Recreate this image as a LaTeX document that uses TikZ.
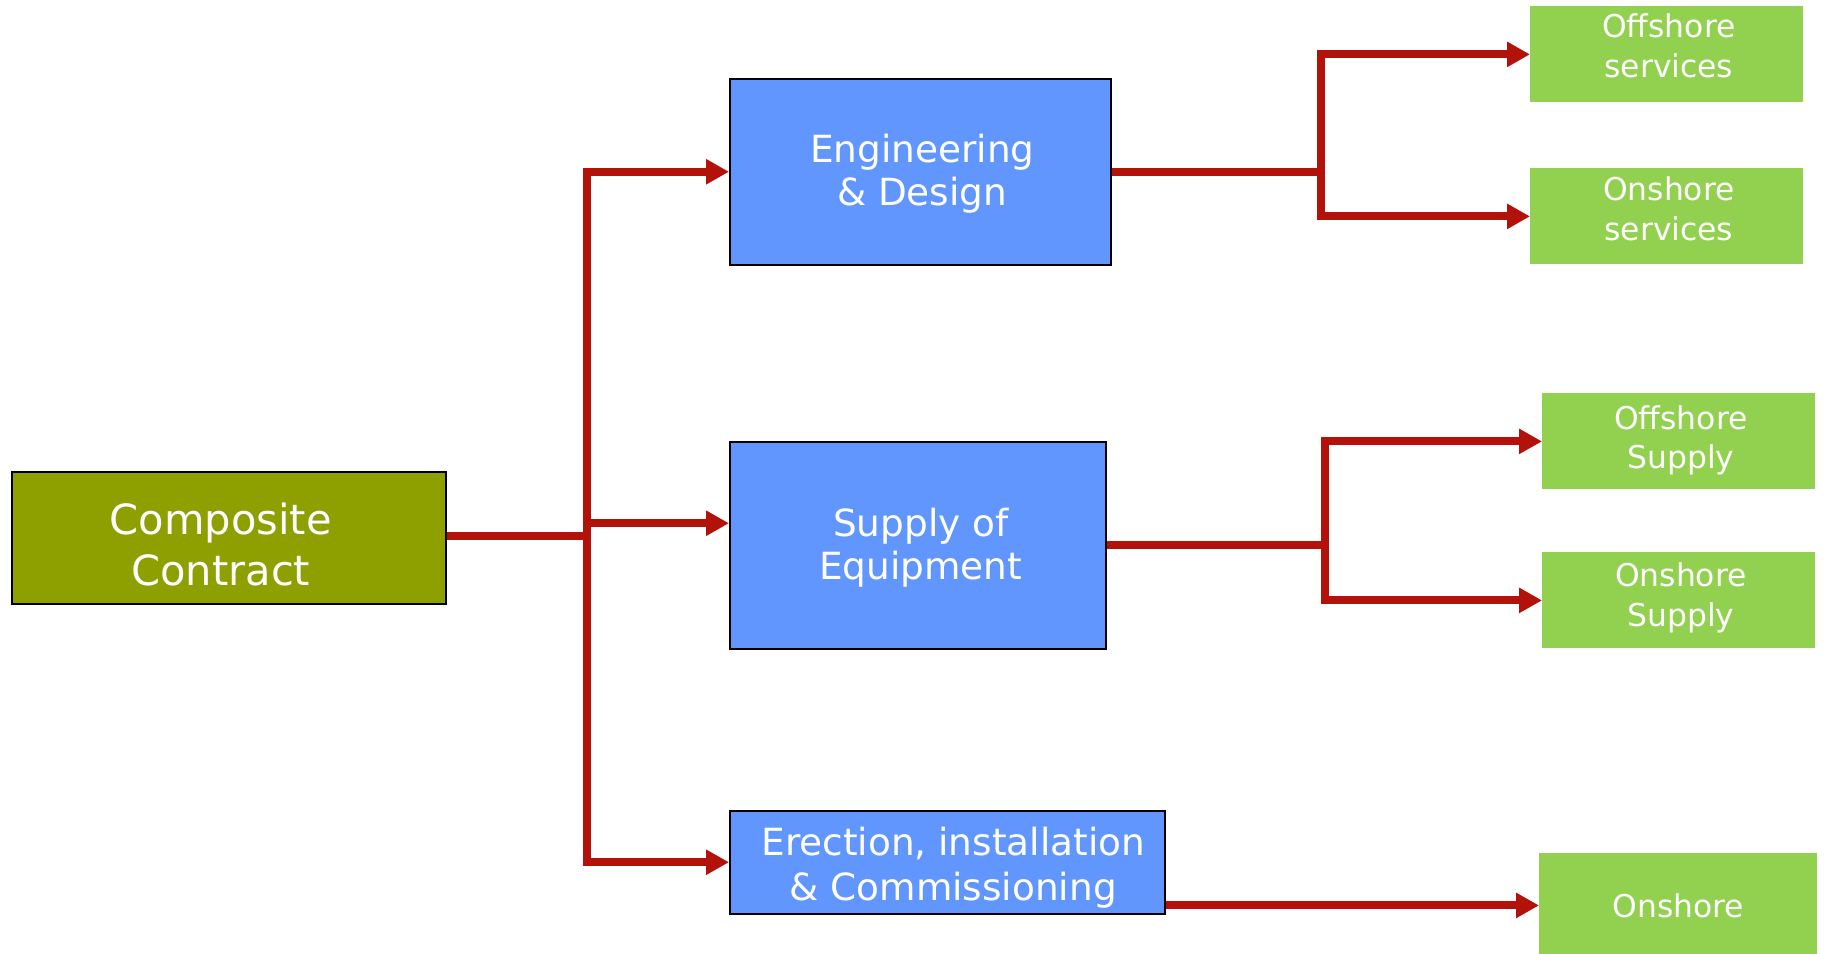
\documentclass[tikz,border=0pt]{standalone}
\usepackage{fontspec}
\setmainfont{DejaVu Sans}
\usetikzlibrary{arrows.meta}
\definecolor{olivebox}{RGB}{142,160,0}
\definecolor{bluebox}{RGB}{97,150,255}
\definecolor{greenbox}{RGB}{146,208,80}
\definecolor{linkred}{RGB}{178,18,10}
\tikzset{
  mainbox/.style={draw=black, line width=0.75pt, fill=olivebox, anchor=north west, inner sep=0pt},
  partbox/.style={draw=black, line width=0.75pt, fill=bluebox, anchor=north west, inner sep=0pt},
  leafbox/.style={fill=greenbox, anchor=north west, inner sep=0pt,
    minimum width=136.5pt, minimum height=48pt},
  maintext/.style={text=white, align=center, inner sep=0pt, font=\fontsize{20.8}{25.6}\selectfont},
  parttext/.style={text=white, align=center, inner sep=0pt, font=\fontsize{18.7}{21.5}\selectfont},
  leaftext/.style={text=white, align=center, inner sep=0pt, font=\fontsize{15.7}{19.8}\selectfont},
  link/.style={draw=linkred, line width=4pt, -{Triangle[length=11.5pt,width=12pt]}},
  bar/.style={draw=linkred, line width=4pt}
}
\begin{document}
\begin{tikzpicture}[x=0.5pt,y=-0.5pt]
  \useasboundingbox (0,0) rectangle (1824,953);

  \node[mainbox, minimum width=217pt, minimum height=66pt,
    label={[maintext, xshift=-4pt, yshift=-3.5pt]center:Composite\\Contract}] (cc) at (11,471) {};

  \node[partbox, minimum width=190.5pt, minimum height=93pt,
    label={[parttext, xshift=1pt, yshift=-1.2pt]center:Engineering\\\& Design}] (eng) at (729,78) {};
  \node[partbox, minimum width=188pt, minimum height=103.5pt,
    label={[parttext, xshift=1.5pt, yshift=-1pt]center:Supply of\\Equipment}] (sup) at (729,441) {};
  \node[partbox, minimum width=217.5pt, minimum height=51.5pt,
    label={[parttext, xshift=3pt, yshift=-2.9pt, font=\fontsize{18.7}{22.6}\selectfont]center:Erection, installation\\\& Commissioning}] (erc) at (729,810) {};

  \node[leafbox, label={[leaftext, xshift=1pt, yshift=4.4pt]center:Offshore\\services}] (offsrv) at (1530,6) {};
  \node[leafbox, label={[leaftext, xshift=1pt, yshift=3.8pt]center:Onshore\\services}] (onsrv) at (1530,168) {};
  \node[leafbox, label={[leaftext, xshift=1pt, yshift=0.6pt]center:Offshore\\Supply}] (offsup) at (1542,393) {};
  \node[leafbox, label={[leaftext, xshift=1pt, yshift=1.2pt]center:Onshore\\Supply}] (onsup) at (1542,552) {};
  \node[leafbox, minimum width=139pt, minimum height=52pt,
    label={[leaftext]center:Onshore}] (on) at (1539,853) {};

  % composite contract to its three parts
  \coordinate (trunk) at (587,536);
  \draw[bar] (cc.east |- trunk) -- (trunk);
  \draw[link] (trunk) |- (eng.west);
  \draw[link] (trunk) |- ([yshift=11pt]sup.west);
  \draw[link] (trunk) |- (erc.west);
  \draw[bar] (trunk |- eng.west) -- (trunk |- erc.west);

  % engineering split
  \draw[bar] (eng.east) -- ++(209,0) coordinate (engfork);
  \draw[link] (engfork) |- (offsrv.west);
  \draw[link] (engfork) |- (onsrv.west);

  % supply split
  \draw[bar] (sup.east) -- ++(218,0) coordinate (supfork);
  \draw[link] (supfork) |- (offsup.west);
  \draw[link] (supfork) |- (onsup.west);

  % erection
  \draw[link] (erc.east |- on.west) -- (on.west);
\end{tikzpicture}
\end{document}
